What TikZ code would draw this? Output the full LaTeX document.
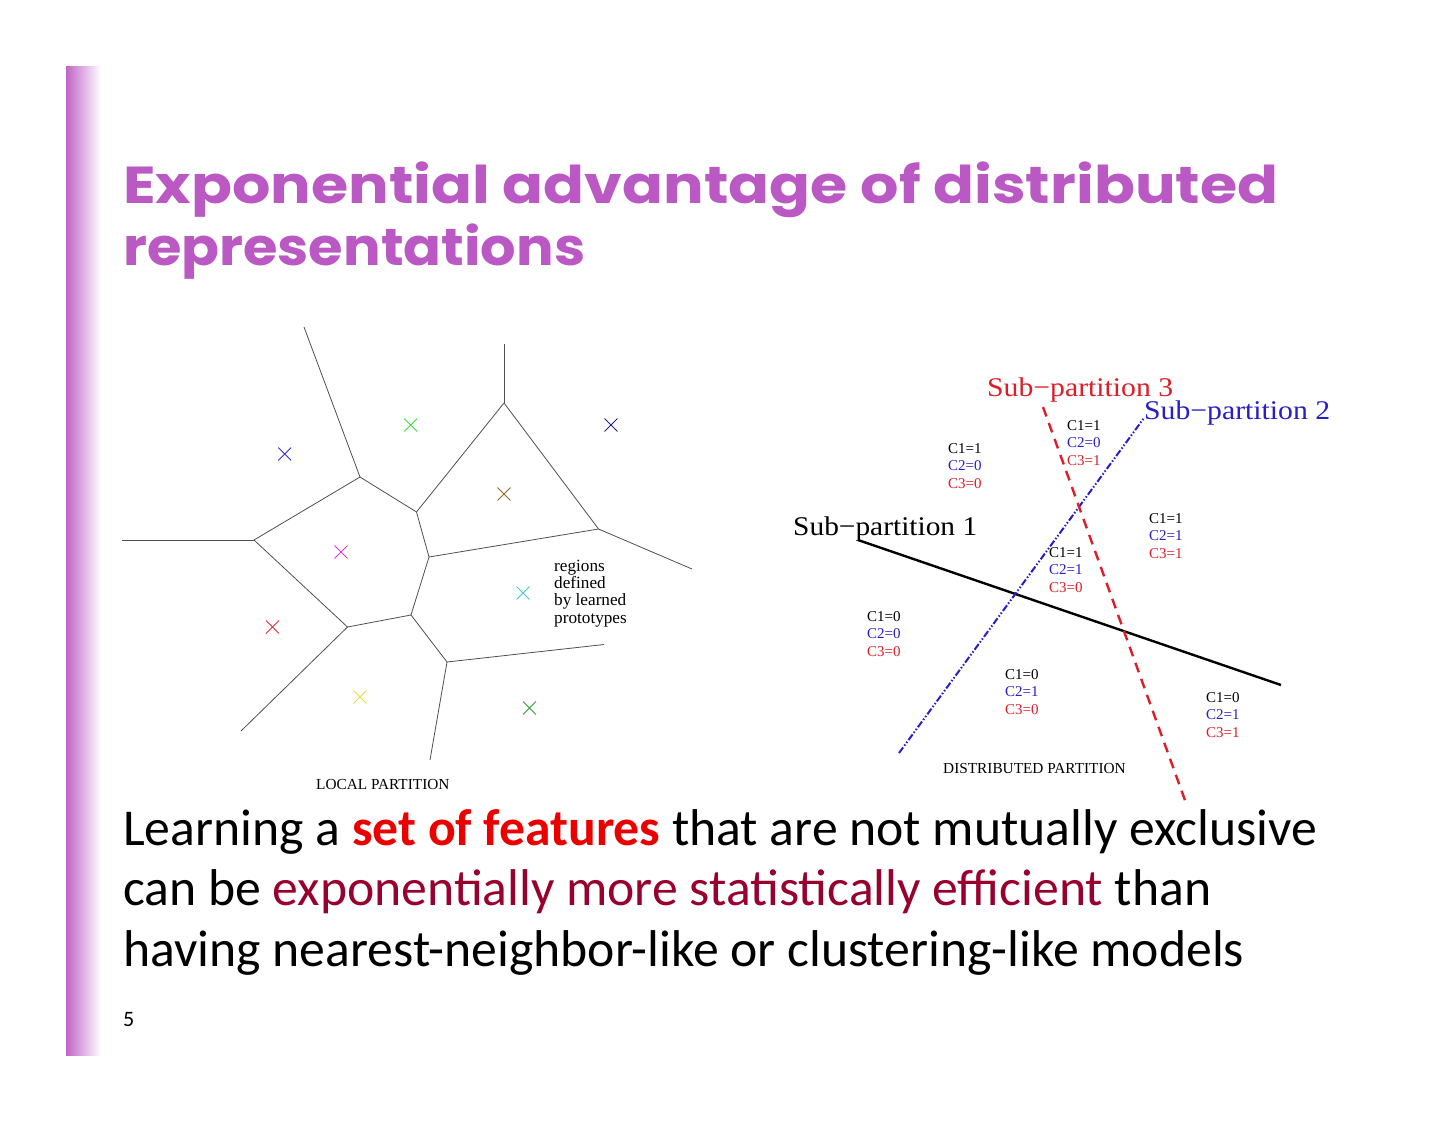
\documentclass[tikz,border=0pt]{standalone}
\usepackage{graphicx}
\usepackage{fontspec}
\setmainfont{Carlito}
\newfontfamily\serifd{Liberation Serif}
\newfontfamily\titlefont{Poppins}
\usetikzlibrary{shapes.misc}
\definecolor{tpurple}{RGB}{186,88,196}
\definecolor{barpurple}{RGB}{192,100,200}
\definecolor{hired}{RGB}{235,0,0}
\definecolor{darkred}{RGB}{152,0,46}
\definecolor{dred}{RGB}{220,30,40}
\definecolor{dblue}{RGB}{40,30,200}
\definecolor{vgrey}{RGB}{80,80,80}
\tikzset{
  vline/.style={draw=vgrey, line width=0.8pt},
  xm/.style={cross out, draw, line width=0.9pt, minimum size=12pt, inner sep=0pt},
  clab/.style={anchor=north west, inner sep=0pt, align=left, font=\serifd\fontsize{15}{17.5}\selectfont},
  sublab/.style={anchor=base west, inner sep=0pt, font=\serifd\fontsize{27}{30}\selectfont},
  small/.style={anchor=base west, inner sep=0pt, font=\serifd\fontsize{15.3}{17}\selectfont},
  body/.style={anchor=base west, inner sep=0pt, font=\fontsize{51.7}{60}\selectfont},
}
\begin{document}
\begin{tikzpicture}[x=1pt,y=-1pt]
\useasboundingbox (0,0) rectangle (1452,1122);
\fill[white] (0,0) rectangle (1452,1122);
% left bar
\shade[left color=barpurple, right color=white] (66,66) rectangle (101,1055);

% title
\node[anchor=base west, inner sep=0pt, text=tpurple] (t1) at (123,203)
  {\titlefont\bfseries\fontsize{52}{60}\selectfont\resizebox{1155pt}{\height}{Exponential advantage of distributed}};
\node[anchor=base west, inner sep=0pt, text=tpurple] (t2) at (123,265)
  {\titlefont\bfseries\fontsize{52}{60}\selectfont\resizebox{462pt}{\height}{representations}};

% ---------- local partition (Voronoi) ----------
\coordinate (a0) at (304,327);
\coordinate (V1) at (360,477);
\coordinate (V2) at (254,540);
\coordinate (b0) at (122,540);
\coordinate (V3) at (416.5,512);
\coordinate (V4) at (504,403);
\coordinate (c0) at (504,344);
\coordinate (V5) at (598.5,529);
\coordinate (e0) at (692,569);
\coordinate (V6) at (429,557);
\coordinate (V7) at (347.5,627);
\coordinate (V8) at (411,615);
\coordinate (V9) at (447,662);
\coordinate (f0) at (604,644.5);
\coordinate (g0) at (430,760);
\coordinate (h0) at (241,731);
\draw[vline] (a0) -- (V1);
\draw[vline] (b0) -- (V2);
\draw[vline] (V1) -- (V2);
\draw[vline] (V1) -- (V3);
\draw[vline] (V3) -- (V4);
\draw[vline] (c0) -- (V4);
\draw[vline] (V4) -- (V5);
\draw[vline] (V5) -- (e0);
\draw[vline] (V3) -- (V6);
\draw[vline] (V6) -- (V5);
\draw[vline] (V2) -- (V7);
\draw[vline] (V6) -- (V8);
\draw[vline] (V7) -- (V8);
\draw[vline] (V7) -- (h0);
\draw[vline] (V8) -- (V9);
\draw[vline] (V9) -- (f0);
\draw[vline] (V9) -- (g0);

\node[xm, draw={rgb,255:red,50;green,50;blue,200}] (p1) at (284.7,454) {};
\node[xm, draw={rgb,255:red,60;green,220;blue,60}] (p2) at (410.8,425) {};
\node[xm, draw={rgb,255:red,35;green,35;blue,140}] (p3) at (611,425) {};
\node[xm, draw={rgb,255:red,150;green,100;blue,50}] (p4) at (504,494) {};
\node[xm, draw={rgb,255:red,220;green,60;blue,220}] (p5) at (341,552) {};
\node[xm, draw={rgb,255:red,70;green,200;blue,210}] (p6) at (523,593) {};
\node[xm, draw={rgb,255:red,220;green,50;blue,60}] (p7) at (272.4,627) {};
\node[xm, draw={rgb,255:red,240;green,220;blue,60}] (p8) at (360,697) {};
\node[xm, draw={rgb,255:red,50;green,160;blue,50}] (p9) at (529.5,708) {};

\node[anchor=north west, inner sep=0pt, align=left, font=\serifd\fontsize{17.2}{17.2}\selectfont] (reg) at (554,560)
  {regions\\defined\\by learned\\prototypes};
\node[small] (lp) at (316,789) {LOCAL PARTITION};

% ---------- distributed partition ----------
\coordinate (k1a) at (858,540);
\coordinate (k1b) at (1281,685);
\coordinate (k2a) at (899,753);
\coordinate (k2b) at (1144,418);
\coordinate (k3a) at (1043,407);
\coordinate (k3b) at (1186,803);
\draw[line width=2.4pt, black] (k1a) -- (k1b);
\draw[line width=2pt, dblue, dash pattern=on 7pt off 2pt on 1.5pt off 2pt on 1.5pt off 2pt] (k2a) -- (k2b);
\draw[line width=2.4pt, dred, dash pattern=on 10pt off 7pt] (k3a) -- (k3b);

\node[sublab, text=dred] (s3) at (987,396) {\resizebox{186pt}{\height}{Sub−partition 3}};
\node[sublab, text=dblue] (s2) at (1144,419.5) {\resizebox{186pt}{\height}{Sub−partition 2}};
\node[sublab, text=black] (s1) at (793,535) {\resizebox{184pt}{\height}{Sub−partition 1}};

\node[clab] (r1) at (948,443) {C1=1\\\textcolor{dblue}{C2=0}\\\textcolor{dred}{C3=0}};
\node[clab] (r2) at (1067,420) {C1=1\\\textcolor{dblue}{C2=0}\\\textcolor{dred}{C3=1}};
\node[clab] (r3) at (1149,513) {C1=1\\\textcolor{dblue}{C2=1}\\\textcolor{dred}{C3=1}};
\node[clab] (r4) at (1049,547) {C1=1\\\textcolor{dblue}{C2=1}\\\textcolor{dred}{C3=0}};
\node[clab] (r5) at (867,611) {C1=0\\\textcolor{dblue}{C2=0}\\\textcolor{dred}{C3=0}};
\node[clab] (r6) at (1005,669) {C1=0\\\textcolor{dblue}{C2=1}\\\textcolor{dred}{C3=0}};
\node[clab] (r7) at (1206,692) {C1=0\\\textcolor{dblue}{C2=1}\\\textcolor{dred}{C3=1}};
\node[small] (dp) at (943,773) {DISTRIBUTED PARTITION};

% ---------- body text ----------
\node[body] (l1) at (123,845) {Learning a \textbf{\textcolor{hired}{set of features}} that are not mutually exclusive};
\node[body] (l2) at (123,905) {can be \textcolor{darkred}{exponentially more statistically efficient} than};
\node[body] (l3) at (123,966) {having nearest-neighbor-like or clustering-like models};
\node[anchor=base west, inner sep=0pt, font=\fontsize{22}{26}\selectfont] (pn) at (123,1026) {5};
\end{tikzpicture}
\end{document}
